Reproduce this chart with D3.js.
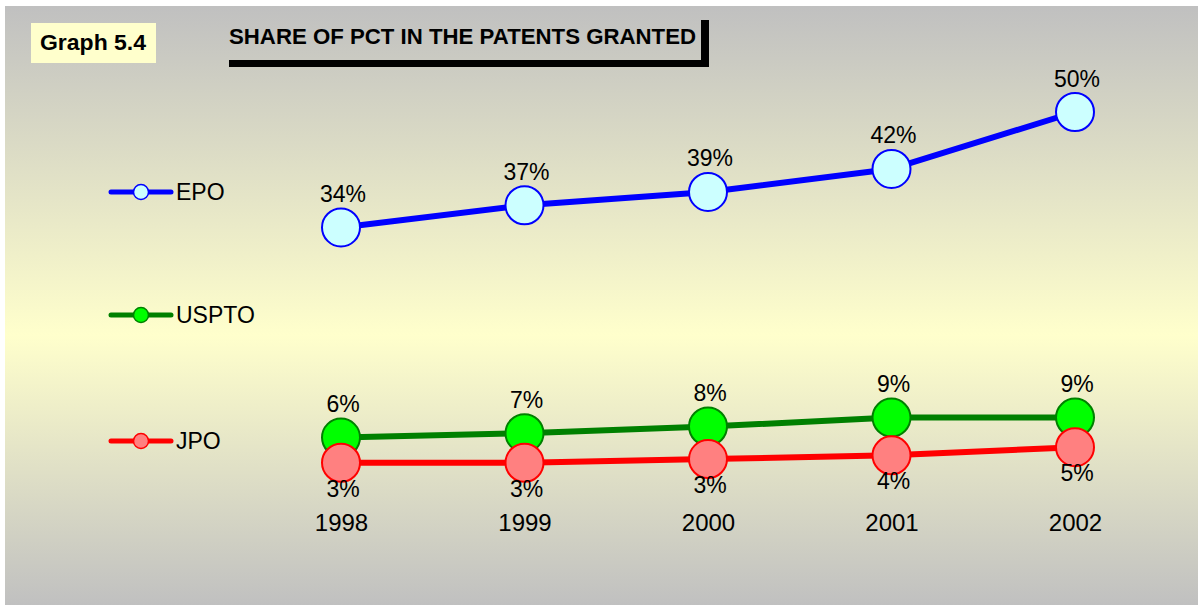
<!DOCTYPE html>
<html>
<head>
<meta charset="utf-8">
<script src="https://cdn.jsdelivr.net/npm/d3@7"></script>
<style>
    body { margin: 0; background: #ffffff; }
    svg { display: block; font-family: Arial, "Liberation Sans", sans-serif; }
</style>
</head>
<body>
<svg id="chart"></svg>
<script>
// values (percent)
const years = ["1998", "1999", "2000", "2001", "2002"];
const epo = [34.4, 37.4, 39.2, 42.3, 50.0];
const uspto = [6.0, 6.6, 7.5, 8.7, 8.7];
const jpo = [2.6, 2.6, 3.1, 3.6, 4.7];

const seriesNames = ["EPO", "USPTO", "JPO"];
const lineColors = ["#0000ff", "#008000", "#ff0000"];
const markerFills = ["#ccffff", "#00ff00", "#ff8080"];
const labelSide = ["above", "above", "below"];

const chartTitle = "SHARE OF PCT IN THE PATENTS GRANTED";
const graphNo = "Graph 5.4";

const svg = d3.select("#chart")
    .attr("width", 1198)
    .attr("height", 605);

// background panel with vertical gradient
const grad = svg.append("defs").append("linearGradient")
    .attr("id", "bg")
    .attr("x1", 0).attr("y1", 0).attr("x2", 0).attr("y2", 1);
grad.append("stop").attr("offset", "0%").attr("stop-color", "#c0c0c0");
grad.append("stop").attr("offset", "55%").attr("stop-color", "#ffffcc");
grad.append("stop").attr("offset", "100%").attr("stop-color", "#c0c0c0");

svg.append("rect")
    .attr("x", 5).attr("y", 6)
    .attr("width", 1193).attr("height", 599)
    .attr("fill", "url(#bg)");

// graph number box
svg.append("rect")
    .attr("x", 31).attr("y", 23)
    .attr("width", 125).attr("height", 40)
    .attr("fill", "#ffffcc");
svg.append("text")
    .attr("x", 40).attr("y", 50)
    .attr("font-size", 22)
    .attr("font-weight", "bold")
    .attr("textLength", 106)
    .attr("lengthAdjust", "spacingAndGlyphs")
    .text(graphNo);

// title with shadow bars
svg.append("rect")
    .attr("x", 229).attr("y", 60)
    .attr("width", 480).attr("height", 7)
    .attr("fill", "#000");
svg.append("rect")
    .attr("x", 701).attr("y", 20)
    .attr("width", 8).attr("height", 47)
    .attr("fill", "#000");
svg.append("text")
    .attr("x", 229).attr("y", 44)
    .attr("font-size", 22)
    .attr("font-weight", "bold")
    .attr("textLength", 467)
    .attr("lengthAdjust", "spacingAndGlyphs")
    .text(chartTitle);

// scales
const x = d3.scalePoint().domain(years).range([341, 1075]);
const y = d3.scaleLinear().domain([0, 60]).range([482, 38]);

const seriesData = [epo, uspto, jpo].map((vals, i) => ({
    name: seriesNames[i],
    color: lineColors[i],
    fill: markerFills[i],
    side: labelSide[i],
    points: vals.map((v, j) => ({year: years[j], value: v}))
}));

const line = d3.line()
    .x(d => x(d.year))
    .y(d => y(d.value));

const plot = svg.append("g").attr("id", "plot");

seriesData.forEach(s => {
    const g = plot.append("g");
    g.append("path")
        .datum(s.points)
        .attr("d", line)
        .attr("fill", "none")
        .attr("stroke", s.color)
        .attr("stroke-width", 6)
        .attr("stroke-linejoin", "round");

    g.selectAll("circle")
        .data(s.points)
        .enter().append("circle")
        .attr("cx", d => x(d.year))
        .attr("cy", d => y(d.value))
        .attr("r", 19)
        .attr("fill", s.fill)
        .attr("stroke", s.color)
        .attr("stroke-width", 2);
});

// data labels on top of everything
seriesData.forEach(s => {
    plot.append("g").selectAll("text")
        .data(s.points)
        .enter().append("text")
        .attr("x", d => x(d.year) + 2)
        .attr("y", d => s.side === "above" ? y(d.value) - 25.5 : y(d.value) + 34)
        .attr("text-anchor", "middle")
        .attr("font-size", 23)
        .attr("fill", "#000")
        .text(d => Math.round(d.value) + "%");
});

// category labels
const xAxis = svg.append("g")
    .attr("class", "axis axis-x")
    .attr("transform", "translate(0, 531)")
    .call(d3.axisBottom(x).tickSize(0).tickPadding(0));
xAxis.select(".domain").remove();
xAxis.selectAll("text")
    .attr("dy", 0)
    .attr("y", 0)
    .attr("font-size", 24)
    .attr("font-family", "Arial, 'Liberation Sans', sans-serif")
    .attr("fill", "#000");

// legend
const legendY = [192, 315, 441];
const legend = svg.append("g").attr("id", "legend");
seriesData.forEach((s, i) => {
    const lg = legend.append("g").attr("transform", `translate(0, ${legendY[i]})`);
    lg.append("line")
        .attr("x1", 111).attr("x2", 171)
        .attr("y1", 0).attr("y2", 0)
        .attr("stroke", s.color)
        .attr("stroke-width", 5)
        .attr("stroke-linecap", "round");
    lg.append("circle")
        .attr("cx", 141).attr("cy", 0)
        .attr("r", 7.5)
        .attr("fill", s.fill)
        .attr("stroke", s.color)
        .attr("stroke-width", 1.5);
    lg.append("text")
        .attr("x", 176).attr("y", 8)
        .attr("font-size", 23)
        .attr("fill", "#000")
        .text(s.name);
});
</script>
</body>
</html>
